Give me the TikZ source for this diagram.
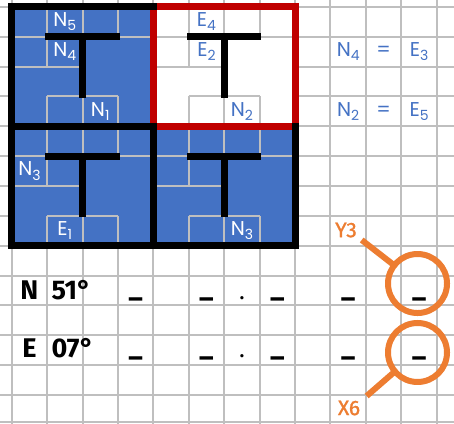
\documentclass[tikz,border=0pt]{standalone}
\usepackage{fontspec}
\setmainfont{Poppins}
\newfontfamily\coordfont{Fira Sans}
\newfontfamily\orfont[FakeBold=1.2]{Fira Sans}
\definecolor{gridgray}{HTML}{BFBFBF}
\definecolor{tblue}{HTML}{4472C4}
\definecolor{tred}{HTML}{C00000}
\definecolor{torange}{HTML}{ED7D31}
\newcommand{\lbl}[2]{#1\raisebox{-4.5pt}{\fontsize{14}{14}\selectfont #2}}
\tikzset{
  gridline/.style={draw=gridgray, line width=2pt},
  tbar/.style={draw=black, line width=7pt},
  frame/.style={draw=black, line width=7pt},
  redframe/.style={draw=tred, line width=7pt},
  lab/.style={font=\fontsize{20}{20}\selectfont, inner sep=0pt},
  wlab/.style={lab, text=white},
  blab/.style={lab, text=tblue},
  coordtxt/.style={font=\coordfont\bfseries\fontsize{27}{27}\selectfont, inner sep=0pt, anchor=base},
  blank/.style={font=\coordfont\bfseries\fontsize{27}{27}\selectfont, inner sep=0pt, anchor=base},
  dottxt/.style={font=\coordfont\bfseries\fontsize{18}{18}\selectfont, inner sep=0pt, anchor=base},
  mag/.style={circle, draw=torange, line width=6pt, minimum size=59pt, inner sep=0pt, outer sep=0pt},
  handle/.style={draw=torange, line width=6pt},
  olab/.style={font=\orfont\fontsize{21}{21}\selectfont, text=torange, inner sep=0pt},
}
\begin{document}
\begin{tikzpicture}[x=35.42pt, y=-29.86pt]
\clip (-0.3303,-0.2277) rectangle (12.4873,13.9388);
\fill[white] (-0.3303,-0.2277) rectangle (12.4873,13.9388);
% background grid
\foreach \c in {0,...,12} \draw[gridline] (\c,-0.4) -- (\c,14.1);
\foreach \r in {0,...,13} \draw[gridline] (-0.5,\r) -- (12.6,\r);
\draw[gridline] (-0.5,13.888) -- (12.6,13.888);
% squares
\fill[tblue] (0,0) rectangle (4,4);
\fill[white] (4,0) rectangle (8,4);
\fill[tblue] (0,4) rectangle (4,8);
\fill[tblue] (4,4) rectangle (8,8);
\foreach \ox/\oy in {0/0,4/0,0/4,4/4} {
  \begin{scope}[shift={(\ox,\oy)}]
    \draw[gridline] (0,1) -- (4,1);
    \draw[gridline] (1,0) -- (1,2);
    \draw[gridline] (2,0) -- (2,1);
    \draw[gridline] (3,0) -- (3,1);
    \draw[gridline] (0,2) -- (2,2);
    \draw[gridline] (1,3) -- (3,3);
    \draw[gridline] (1,3) -- (1,4);
    \draw[gridline] (2,3) -- (2,4);
    \draw[gridline] (3,3) -- (3,4);
    \draw[tbar] (0.95,1) -- (3.05,1);
    \draw[tbar] (2,1) -- (2,3.04);
  \end{scope}
}
% frames
\draw[frame] (0,0) rectangle (4,4);
\draw[frame] (0,4) rectangle (4,8);
\draw[frame] (4,4) rectangle (8,8);
\draw[redframe] (4,0) rectangle (8,4);
\foreach \p in {(4,0),(4,4),(8,4)}
  \fill[black] \p ++(-3.5pt,-3.5pt) rectangle ++(7pt,7pt);
% labels in squares
\node[wlab] (n5) at (1.5,0.5) {\lbl{N}{5}};
\node[wlab] (n4) at (1.5,1.5) {\lbl{N}{4}};
\node[wlab] (n1) at (2.5,3.5) {\lbl{N}{1}};
\node[blab] (e4) at (5.5,0.5) {\lbl{E}{4}};
\node[blab] (e2) at (5.5,1.5) {\lbl{E}{2}};
\node[blab] (n2) at (6.5,3.5) {\lbl{N}{2}};
\node[wlab] (n3a) at (0.5,5.5) {\lbl{N}{3}};
\node[wlab] (e1) at (1.5,7.5) {\lbl{E}{1}};
\node[wlab] (n3b) at (6.5,7.5) {\lbl{N}{3}};
% equations
\node[blab] (q1a) at (9.5,1.5) {\lbl{N}{4}};
\node[blab] (q1b) at (10.5,1.5) {=};
\node[blab] (q1c) at (11.5,1.5) {\lbl{E}{3}};
\node[blab] (q2a) at (9.5,3.5) {\lbl{N}{2}};
\node[blab] (q2b) at (10.5,3.5) {=};
\node[blab] (q2c) at (11.5,3.5) {\lbl{E}{5}};
% coordinates
\node[coordtxt] (nn) at (0.5,9.8) {N};
\node[coordtxt, anchor=base west] (nd) at (1.124,9.8) {51°};
\node[coordtxt] (ee) at (0.5,11.76) {E};
\node[coordtxt, anchor=base west] (ed) at (1.124,11.76) {07°};
\foreach \c [count=\i] in {3.5,5.5,7.5,9.5,11.5} {
  \node[blank] (nb\i) at (\c,9.70) {\_};
  \node[blank] (eb\i) at (\c,11.68) {\_};
}
\node[dottxt] (ndot) at (6.5,9.786) {.};
\node[dottxt] (edot) at (6.5,11.76) {.};
% magnifiers
\node[mag] (m1) at (11.457,9.267) {};
\node[mag] (m2) at (11.457,11.577) {};
\coordinate (h1) at (9.881,7.810);
\coordinate (h2) at (10.022,13.034);
\draw[handle] (m1.142) -- (h1);
\draw[handle] (m2.220) -- (h2);
\node[olab] (y3) at (9.438,7.476) {Y3};
\node[olab] (x6) at (9.523,13.436) {X6};
\end{tikzpicture}
\end{document}
